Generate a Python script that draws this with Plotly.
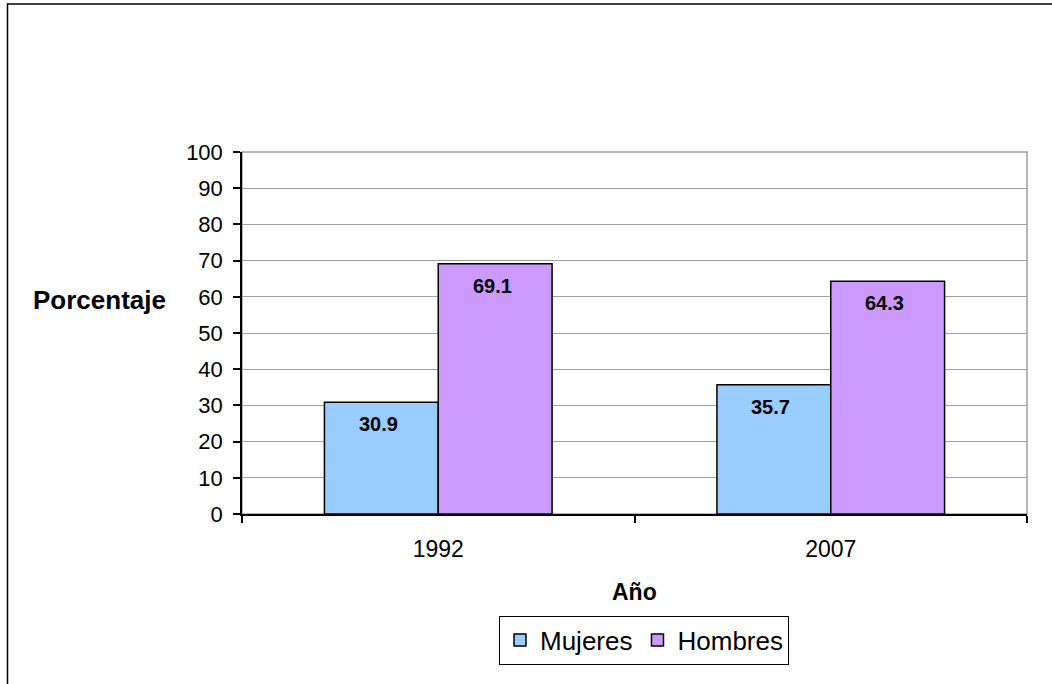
import plotly.graph_objects as go

years = ["1992", "2007"]
mujeres = [30.9, 35.7]
hombres = [69.1, 64.3]
series_names = ["Mujeres", "Hombres"]
colors = ["#99CCFF", "#CC99FF"]
y_ticks = [0, 10, 20, 30, 40, 50, 60, 70, 80, 90, 100]

FONT = "Liberation Sans, Arial, sans-serif"

fig = go.Figure()
for name, vals, col in zip(series_names, [mujeres, hombres], colors):
    fig.add_trace(go.Bar(
        x=years, y=vals, name=name,
        marker=dict(color=col, line=dict(color="black", width=1.5)),
        hoverinfo="skip",
    ))

L, R, T, B = 242, 25, 152, 170
W, H = 1052, 684
pw = W - L - R
ph = H - T - B
bargap = 0.42
cat_px = pw / len(years)
bar_px = cat_px * (1 - bargap) / 2

annotations = []
for i, yr in enumerate(years):
    for j, vals in enumerate([mujeres, hombres]):
        annotations.append(dict(
            x=i, y=vals[i], xref="x", yref="y",
            xshift=(j - 0.5) * bar_px - 3, yshift=-22,
            text=f"{vals[i]:.1f}", showarrow=False,
            font=dict(family=FONT, size=20, color="black", weight="bold"),
            xanchor="center", yanchor="middle",
        ))

annotations.append(dict(
    x=(168 - L) / pw, y=(H - B - 300) / ph, xref="paper", yref="paper",
    text="<b>Porcentaje</b>", showarrow=False, xanchor="right", yanchor="middle",
    font=dict(family=FONT, size=26, color="black"),
))
annotations.append(dict(
    x=0.5, y=(H - B - 592) / ph, xref="paper", yref="paper",
    text="<b>Año</b>", showarrow=False, xanchor="center", yanchor="middle",
    font=dict(family=FONT, size=23, color="black"),
))

shapes = [
    dict(type="rect", xref="paper", yref="paper", x0=0, x1=1, y0=0, y1=1,
         line=dict(color="#A0A0A0", width=1.5), layer="below"),
    dict(type="rect", xref="paper", yref="paper",
         x0=(7.5 - L) / pw, x1=(W + 50 - L) / pw,
         y0=(H - B - (H + 50)) / ph, y1=(H - B - 4) / ph,
         line=dict(color="black", width=1.5), fillcolor="rgba(0,0,0,0)"),
]

fig.update_layout(
    width=W, height=H,
    margin=dict(l=L, r=R, t=T, b=B, pad=0, autoexpand=False),
    paper_bgcolor="white", plot_bgcolor="white",
    barmode="group", bargap=bargap, bargroupgap=0,
    font=dict(family=FONT, color="black"),
    showlegend=True,
    legend=dict(
        orientation="h", x=(644 - L) / pw, y=(H - B - 640) / ph,
        xanchor="center", yanchor="middle",
        bordercolor="black", borderwidth=1, bgcolor="white",
        font=dict(family=FONT, size=26, color="black"),
        itemwidth=30,
    ),
    annotations=annotations,
    shapes=shapes,
    xaxis=dict(
        type="category", tickson="boundaries", ticks="outside", ticklen=7,
        tickcolor="black", tickwidth=1.5,
        showline=True, linecolor="black", linewidth=1.5,
        showgrid=False, tickfont=dict(family=FONT, size=23, color="black"),
        ticklabelstandoff=14, automargin=False,
    ),
    yaxis=dict(
        range=[0, 100], tickvals=y_ticks, ticks="outside", ticklen=7,
        tickcolor="black", tickwidth=1.5,
        showline=True, linecolor="black", linewidth=1.5,
        showgrid=True, gridcolor="#A0A0A0", gridwidth=1.2,
        zeroline=False, automargin=False, ticklabelstandoff=6,
        tickfont=dict(family=FONT, size=22, color="black"),
    ),
)

fig.write_html(
    "out.html",
    config={"displayModeBar": False},
    post_script="document.body.style.margin='0';document.body.style.overflow='hidden';",
)
